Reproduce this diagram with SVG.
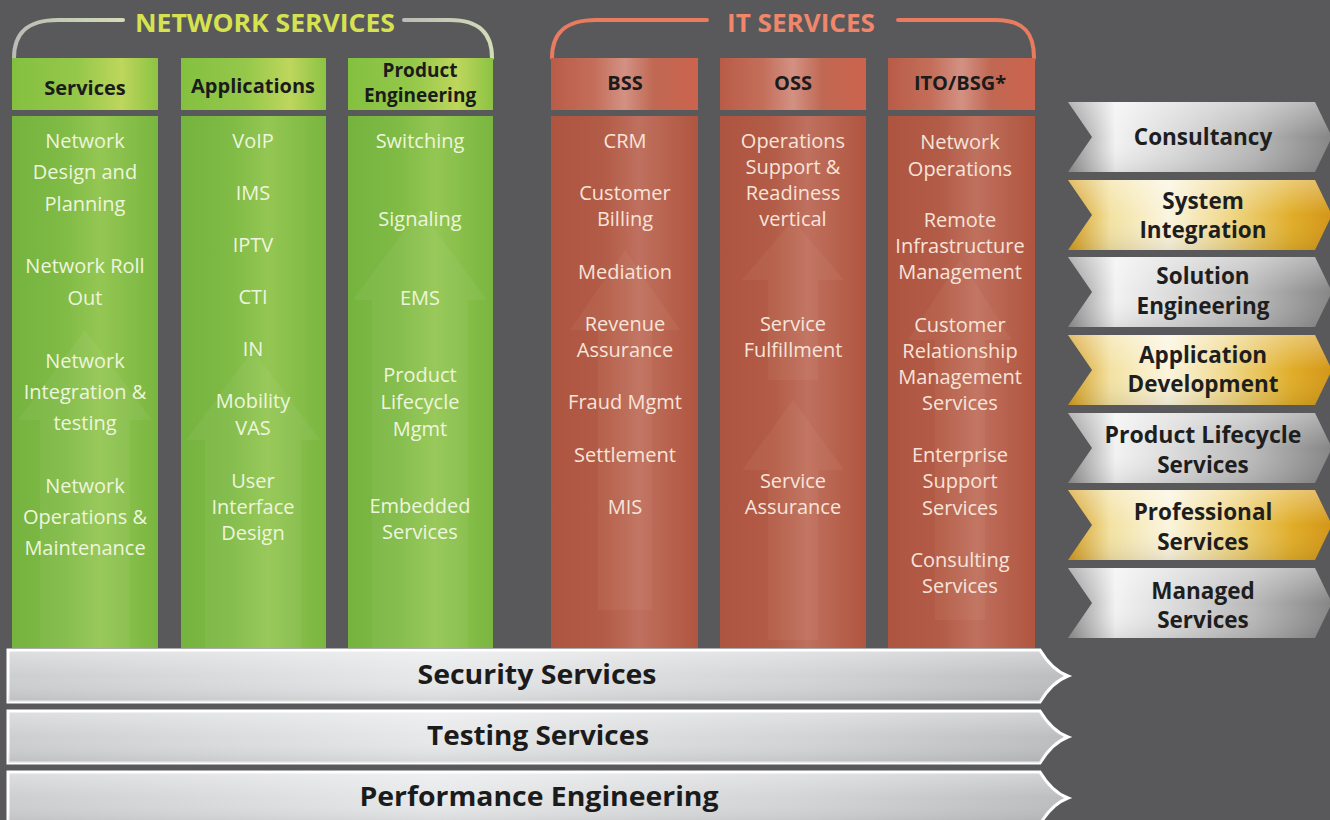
<svg xmlns="http://www.w3.org/2000/svg" width="1330" height="820" viewBox="0 0 1330 820">
  <style>
    .title { font-family: "Open Sans", "Liberation Sans", sans-serif; font-weight: 700; font-size: 25px; text-anchor: middle; }
    .hdr { font-family: "Open Sans", "Liberation Sans", sans-serif; font-weight: 700; font-size: 20px; fill: #1b1b1b; text-anchor: middle; }
    .hdr-sm { font-size: 19px; }
    .item { font-family: "Open Sans", "Liberation Sans", sans-serif; font-size: 20px; text-anchor: middle; }
    .green .item { fill: #eef5dd; }
    .red .item { fill: #f8e4da; }
    .tag { font-family: "Open Sans", "Liberation Sans", sans-serif; font-weight: 700; font-size: 22.5px; fill: #1e1e1e; text-anchor: middle; }
    .bar { font-family: "Open Sans", "Liberation Sans", sans-serif; font-weight: 700; font-size: 26px; fill: #1b1b1b; text-anchor: middle; }
    .glow { fill: #ffffff; opacity: 0.05; }
    .redglow { fill: #f3c2b0; opacity: 0.07; }
    .bracket { fill: none; stroke-width: 4; stroke-linecap: round; }
  </style>
  <defs>
    <linearGradient id="gHead" x1="0" y1="0" x2="1" y2="0">
      <stop offset="0" stop-color="#84c040"/>
      <stop offset="0.45" stop-color="#95c84a"/>
      <stop offset="0.75" stop-color="#bed65c"/>
      <stop offset="1" stop-color="#8cc343"/>
    </linearGradient>
    <linearGradient id="gBody" x1="0" y1="0" x2="1" y2="0">
      <stop offset="0" stop-color="#75b33f"/>
      <stop offset="0.35" stop-color="#7fbb45"/>
      <stop offset="0.6" stop-color="#94c653"/>
      <stop offset="1" stop-color="#79b640"/>
    </linearGradient>
    <linearGradient id="rHead" x1="0" y1="0" x2="1" y2="0">
      <stop offset="0" stop-color="#b95c47"/>
      <stop offset="0.3" stop-color="#c46f5b"/>
      <stop offset="0.5" stop-color="#d39183"/>
      <stop offset="0.7" stop-color="#c06853"/>
      <stop offset="1" stop-color="#cc634d"/>
    </linearGradient>
    <linearGradient id="rBody" x1="0" y1="0" x2="1" y2="0">
      <stop offset="0" stop-color="#ae5540"/>
      <stop offset="0.35" stop-color="#b25b46"/>
      <stop offset="0.6" stop-color="#bf705e"/>
      <stop offset="1" stop-color="#b0553f"/>
    </linearGradient>
    <linearGradient id="silver" x1="0" y1="0" x2="1" y2="0">
      <stop offset="0" stop-color="#8e8e8e"/>
      <stop offset="0.18" stop-color="#f2f2f2"/>
      <stop offset="0.42" stop-color="#d9d9d9"/>
      <stop offset="0.7" stop-color="#b9b9b9"/>
      <stop offset="1" stop-color="#858585"/>
    </linearGradient>
    <linearGradient id="gold" x1="0" y1="0" x2="1" y2="0">
      <stop offset="0" stop-color="#d39c1d"/>
      <stop offset="0.16" stop-color="#f3e2a2"/>
      <stop offset="0.38" stop-color="#fbf5df"/>
      <stop offset="0.62" stop-color="#efd685"/>
      <stop offset="0.85" stop-color="#e0ad28"/>
      <stop offset="1" stop-color="#d39517"/>
    </linearGradient>
    <linearGradient id="barFill" x1="0" y1="0" x2="1" y2="0">
      <stop offset="0" stop-color="#cdced0"/>
      <stop offset="0.4" stop-color="#e7e8e9"/>
      <stop offset="0.75" stop-color="#d3d4d6"/>
      <stop offset="1" stop-color="#bcbdbf"/>
    </linearGradient>
    <linearGradient id="sheen" x1="0" y1="0" x2="0" y2="1">
      <stop offset="0" stop-color="#ffffff" stop-opacity="0.35"/>
      <stop offset="0.5" stop-color="#ffffff" stop-opacity="0"/>
      <stop offset="1" stop-color="#000000" stop-opacity="0.08"/>
    </linearGradient>
    <linearGradient id="nsArc" x1="0" y1="0" x2="1" y2="0">
      <stop offset="0" stop-color="#b9bdb5"/>
      <stop offset="1" stop-color="#d3dcb8"/>
    </linearGradient>
    <path id="chev" d="M0,0 L247,0 L264,35 L247,70 L0,70 L24,35 Z"/>
    <path id="barShape" d="M0,0 L1032,0 Q1044,20 1060,26 Q1044,32 1032,52 L0,52 Z"/>
  </defs>

  <!-- backdrop -->
  <rect width="1330" height="820" fill="#59595b"/>

  <!-- group brackets -->
  <g id="brackets">
    <path class="bracket" stroke="url(#nsArc)" d="M14,58 C14,34 26,20 58,20 L123,20"/>
    <path class="bracket" stroke="url(#nsArc)" d="M404,20 L450,20 C480,20 492,34 492,58"/>
    <path class="bracket" stroke="#e97b5f" d="M552,58 C552,34 564,20 596,20 L707,20"/>
    <path class="bracket" stroke="#e97b5f" d="M898,20 L995,20 C1025,20 1034,34 1034,58"/>
  </g>
  <text class="title" x="265" y="32" fill="#d6e24f" textLength="260" lengthAdjust="spacingAndGlyphs">NETWORK SERVICES</text>
  <text class="title" x="801" y="32" fill="#f0866a" textLength="148" lengthAdjust="spacingAndGlyphs">IT SERVICES</text>

  <!-- network services columns -->
  <g id="col-services" class="green">
    <rect x="12" y="58" width="146" height="52" fill="url(#gHead)"/>
    <rect x="12" y="116" width="146" height="532" fill="url(#gBody)"/>
    <path class="glow" d="M40,648 L40,420 L18,420 L85,330 L152,420 L130,420 L130,648 Z"/>
    <text class="hdr" x="85" y="95">Services</text>
    <text class="item" x="85" y="148">Network</text>
    <text class="item" x="85" y="179">Design and</text>
    <text class="item" x="85" y="211">Planning</text>
    <text class="item" x="85" y="273">Network Roll</text>
    <text class="item" x="85" y="305">Out</text>
    <text class="item" x="85" y="368">Network</text>
    <text class="item" x="85" y="399">Integration &amp;</text>
    <text class="item" x="85" y="430">testing</text>
    <text class="item" x="85" y="493">Network</text>
    <text class="item" x="85" y="524">Operations &amp;</text>
    <text class="item" x="85" y="555">Maintenance</text>
  </g>

  <g id="col-applications" class="green">
    <rect x="181" y="58" width="145" height="52" fill="url(#gHead)"/>
    <rect x="181" y="116" width="145" height="532" fill="url(#gBody)"/>
    <path class="glow" d="M205,648 L205,440 L186,440 L253,350 L320,440 L301,440 L301,648 Z"/>
    <text class="hdr" x="253" y="93">Applications</text>
    <text class="item" x="253" y="148">VoIP</text>
    <text class="item" x="253" y="200">IMS</text>
    <text class="item" x="253" y="252">IPTV</text>
    <text class="item" x="253" y="304">CTI</text>
    <text class="item" x="253" y="356">IN</text>
    <text class="item" x="253" y="408">Mobility</text>
    <text class="item" x="253" y="435">VAS</text>
    <text class="item" x="253" y="488">User</text>
    <text class="item" x="253" y="514">Interface</text>
    <text class="item" x="253" y="540">Design</text>
  </g>

  <g id="col-product-engineering" class="green">
    <rect x="348" y="58" width="145" height="52" fill="url(#gHead)"/>
    <rect x="348" y="116" width="145" height="532" fill="url(#gBody)"/>
    <path class="glow" d="M372,648 L372,300 L353,300 L420,210 L487,300 L468,300 L468,648 Z"/>
    <text class="hdr hdr-sm" x="420" y="77">Product</text>
    <text class="hdr hdr-sm" x="420" y="102">Engineering</text>
    <text class="item" x="420" y="148">Switching</text>
    <text class="item" x="420" y="226">Signaling</text>
    <text class="item" x="420" y="305">EMS</text>
    <text class="item" x="420" y="382">Product</text>
    <text class="item" x="420" y="409">Lifecycle</text>
    <text class="item" x="420" y="436">Mgmt</text>
    <text class="item" x="420" y="513">Embedded</text>
    <text class="item" x="420" y="539">Services</text>
  </g>

  <!-- IT services columns -->
  <g id="col-bss" class="red">
    <rect x="551" y="58" width="147" height="52" fill="url(#rHead)"/>
    <rect x="551" y="116" width="147" height="532" fill="url(#rBody)"/>
    <path class="redglow" d="M598,610 L598,330 L570,330 L625,250 L680,330 L652,330 L652,610 Z"/>
    <text class="hdr" x="625" y="90">BSS</text>
    <text class="item" x="625" y="148">CRM</text>
    <text class="item" x="625" y="200">Customer</text>
    <text class="item" x="625" y="226">Billing</text>
    <text class="item" x="625" y="279">Mediation</text>
    <text class="item" x="625" y="331">Revenue</text>
    <text class="item" x="625" y="357">Assurance</text>
    <text class="item" x="625" y="409">Fraud Mgmt</text>
    <text class="item" x="625" y="462">Settlement</text>
    <text class="item" x="625" y="514">MIS</text>
  </g>

  <g id="col-oss" class="red">
    <rect x="720" y="58" width="146" height="52" fill="url(#rHead)"/>
    <rect x="720" y="116" width="146" height="532" fill="url(#rBody)"/>
    <path class="redglow" d="M768,640 L768,470 L742,470 L793,400 L844,470 L818,470 L818,640 Z"/>
    <path class="redglow" d="M768,380 L768,280 L742,280 L793,220 L844,280 L818,280 L818,380 Z"/>
    <text class="hdr" x="793" y="90">OSS</text>
    <text class="item" x="793" y="148">Operations</text>
    <text class="item" x="793" y="174">Support &amp;</text>
    <text class="item" x="793" y="200">Readiness</text>
    <text class="item" x="793" y="226">vertical</text>
    <text class="item" x="793" y="331">Service</text>
    <text class="item" x="793" y="357">Fulfillment</text>
    <text class="item" x="793" y="488">Service</text>
    <text class="item" x="793" y="514">Assurance</text>
  </g>

  <g id="col-ito-bsg" class="red">
    <rect x="888" y="58" width="147" height="52" fill="url(#rHead)"/>
    <rect x="888" y="116" width="147" height="532" fill="url(#rBody)"/>
    <path class="redglow" d="M935,620 L935,340 L908,340 L960,260 L1012,340 L985,340 L985,620 Z"/>
    <text class="hdr" x="960" y="90">ITO/BSG*</text>
    <text class="item" x="960" y="149">Network</text>
    <text class="item" x="960" y="176">Operations</text>
    <text class="item" x="960" y="227">Remote</text>
    <text class="item" x="960" y="253">Infrastructure</text>
    <text class="item" x="960" y="279">Management</text>
    <text class="item" x="960" y="332">Customer</text>
    <text class="item" x="960" y="358">Relationship</text>
    <text class="item" x="960" y="384">Management</text>
    <text class="item" x="960" y="410">Services</text>
    <text class="item" x="960" y="462">Enterprise</text>
    <text class="item" x="960" y="488">Support</text>
    <text class="item" x="960" y="515">Services</text>
    <text class="item" x="960" y="567">Consulting</text>
    <text class="item" x="960" y="593">Services</text>
  </g>

  <!-- horizontal service bars -->
  <g id="bar-security" transform="translate(8,650)">
    <use href="#barShape" fill="url(#barFill)" stroke="#ffffff" stroke-width="3"/>
    <use href="#barShape" fill="url(#sheen)"/>
    <text class="bar" x="529" y="34" textLength="239" lengthAdjust="spacingAndGlyphs">Security Services</text>
  </g>
  <g id="bar-testing" transform="translate(8,711)">
    <use href="#barShape" fill="url(#barFill)" stroke="#ffffff" stroke-width="3"/>
    <use href="#barShape" fill="url(#sheen)"/>
    <text class="bar" x="530" y="34" textLength="222" lengthAdjust="spacingAndGlyphs">Testing Services</text>
  </g>
  <g id="bar-performance" transform="translate(8,772)">
    <use href="#barShape" fill="url(#barFill)" stroke="#ffffff" stroke-width="3"/>
    <use href="#barShape" fill="url(#sheen)"/>
    <text class="bar" x="531" y="34" textLength="359" lengthAdjust="spacingAndGlyphs">Performance Engineering</text>
  </g>

  <!-- offering chevrons -->
  <g id="chev-consultancy" transform="translate(1068,102)">
    <use href="#chev" fill="url(#silver)"/>
    <use href="#chev" fill="url(#sheen)"/>
    <text class="tag" x="135" y="43">Consultancy</text>
  </g>
  <g id="chev-system-integration" transform="translate(1068,180)">
    <use href="#chev" fill="url(#gold)"/>
    <use href="#chev" fill="url(#sheen)"/>
    <text class="tag" x="135" y="29">System</text>
    <text class="tag" x="135" y="58">Integration</text>
  </g>
  <g id="chev-solution-engineering" transform="translate(1068,257)">
    <use href="#chev" fill="url(#silver)"/>
    <use href="#chev" fill="url(#sheen)"/>
    <text class="tag" x="135" y="27">Solution</text>
    <text class="tag" x="135" y="57">Engineering</text>
  </g>
  <g id="chev-application-development" transform="translate(1068,335)">
    <use href="#chev" fill="url(#gold)"/>
    <use href="#chev" fill="url(#sheen)"/>
    <text class="tag" x="135" y="28">Application</text>
    <text class="tag" x="135" y="57">Development</text>
  </g>
  <g id="chev-product-lifecycle" transform="translate(1068,413)">
    <use href="#chev" fill="url(#silver)"/>
    <use href="#chev" fill="url(#sheen)"/>
    <text class="tag" x="135" y="30" textLength="197" lengthAdjust="spacingAndGlyphs">Product Lifecycle</text>
    <text class="tag" x="135" y="60">Services</text>
  </g>
  <g id="chev-professional-services" transform="translate(1068,490)">
    <use href="#chev" fill="url(#gold)"/>
    <use href="#chev" fill="url(#sheen)"/>
    <text class="tag" x="135" y="30">Professional</text>
    <text class="tag" x="135" y="60">Services</text>
  </g>
  <g id="chev-managed-services" transform="translate(1068,568)">
    <use href="#chev" fill="url(#silver)"/>
    <use href="#chev" fill="url(#sheen)"/>
    <text class="tag" x="135" y="31">Managed</text>
    <text class="tag" x="135" y="60">Services</text>
  </g>
</svg>
